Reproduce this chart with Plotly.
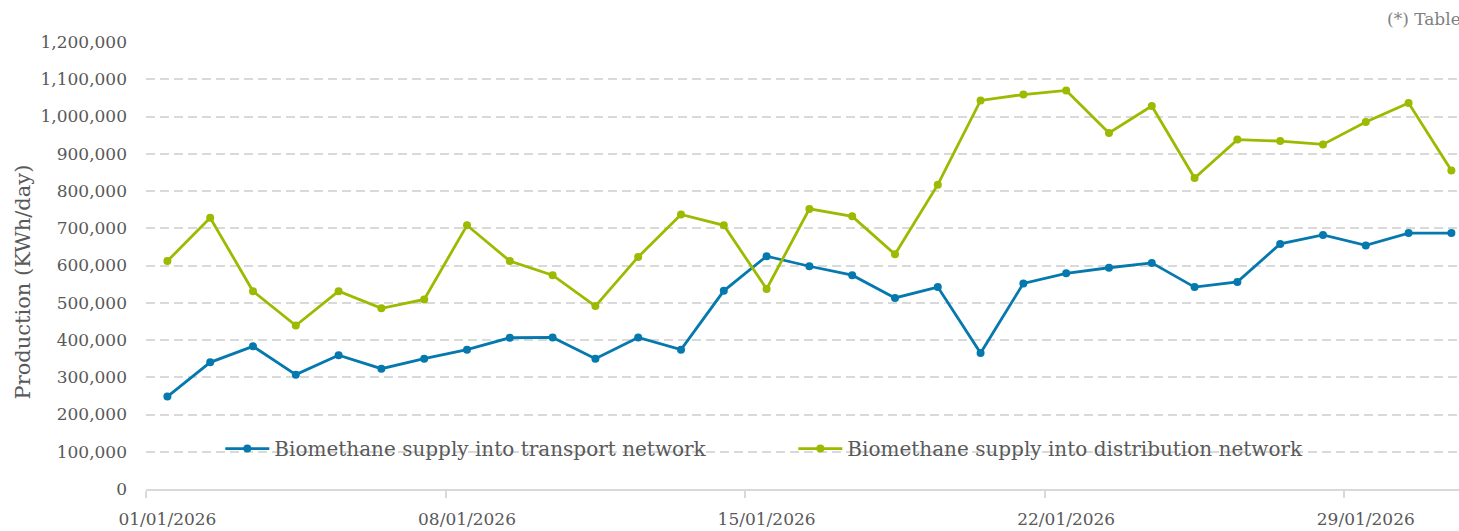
"""
Daily biomethane supply chart - transport vs distribution network, January 2026.
"""

import plotly.graph_objects as go

# Data (kWh/day)
DAYS = [f"2026-01-{d:02d}" for d in range(1, 32)]

TRANSPORT = [
    248000, 340000, 383000, 307000, 359000, 323000, 350000, 374000,
    406000, 407000, 350000, 407000, 374000, 532000, 625000, 598000,
    574000, 513000, 542000, 365000, 552000, 579000, 594000, 607000,
    542000, 556000, 658000, 682000, 654000, 687000, 687000,
]

DISTRIBUTION = [
    612000, 728000, 531000, 439000, 531000, 485000, 509000, 708000,
    612000, 574000, 491000, 623000, 737000, 708000, 537000, 752000,
    732000, 630000, 817000, 1043000, 1059000, 1070000, 956000, 1028000,
    835000, 938000, 934000, 925000, 985000, 1036000, 855000,
]

SERIES_NAMES = [
    "Biomethane supply into transport network",
    "Biomethane supply into distribution network",
]

COLORS = {"transport": "#0579AE", "distribution": "#9CBA00"}
TEXT_COLOR = "#595959"
GRID_COLOR = "#D9D9D9"
FONT = "DejaVu Serif, Liberation Serif, serif"
DAY_MS = 86400000

fig = go.Figure()

for values, name, color in zip(
    [TRANSPORT, DISTRIBUTION], SERIES_NAMES, COLORS.values()
):
    fig.add_trace(
        go.Scatter(
            x=DAYS,
            y=values,
            name=name,
            mode="lines+markers",
            xperiod=DAY_MS,
            xperiodalignment="middle",
            line=dict(color=color, width=2.8),
            marker=dict(color=color, size=8),
        )
    )

fig.update_layout(
    width=1459,
    height=531,
    margin=dict(l=146, r=0, t=42, b=42),
    paper_bgcolor="white",
    plot_bgcolor="white",
    font=dict(family=FONT, color=TEXT_COLOR, size=17),
    showlegend=True,
    legend=dict(
        orientation="h",
        x=0.0566,
        xanchor="left",
        y=0.0905,
        yanchor="middle",
        bgcolor="rgba(0,0,0,0)",
        font=dict(size=20, color=TEXT_COLOR),
        itemwidth=44,
        entrywidth=514,
        entrywidthmode="pixels",
    ),
)

fig.update_xaxes(
    type="date",
    range=["2026-01-01", "2026-01-31 16:16"],
    tick0="2026-01-01 12:00",
    dtick=7 * DAY_MS,
    tickformat="%d/%m/%Y",
    ticks="",
    ticklabelstandoff=14,
    tickfont=dict(size=17, color=TEXT_COLOR),
    showgrid=False,
    showline=True,
    linecolor=GRID_COLOR,
    linewidth=1.5,
    zeroline=False,
    minor=dict(
        tick0="2026-01-01",
        dtick=7 * DAY_MS,
        ticks="outside",
        ticklen=7,
        tickcolor=GRID_COLOR,
        tickwidth=1.5,
        showgrid=False,
    ),
)

fig.update_yaxes(
    range=[0, 1200000],
    dtick=100000,
    tickformat=",d",
    ticks="",
    ticklabelstandoff=18,
    tickfont=dict(size=17, color=TEXT_COLOR),
    showgrid=True,
    gridcolor=GRID_COLOR,
    gridwidth=1.5,
    griddash="9px,5px",
    zeroline=False,
)

# Rotated axis title placed as annotation to match reference position
fig.add_annotation(
    text="Production (KWh/day)",
    xref="paper",
    yref="paper",
    x=(22 - 146) / 1313,
    y=(489.5 - 283) / 447,
    textangle=-90,
    showarrow=False,
    xanchor="center",
    yanchor="middle",
    font=dict(size=21, color=TEXT_COLOR),
)

# Footnote cut off at the right edge, as in the reference
fig.add_annotation(
    text="(*) Table",
    xref="paper",
    yref="paper",
    x=(1385 - 146) / 1313,
    y=(489.5 - 20) / 447,
    showarrow=False,
    xanchor="left",
    yanchor="middle",
    font=dict(size=17, color="#7F7F7F"),
)

# Drop the default page margin so the figure fills the window exactly
fig.write_html(
    "out.html",
    config={"displayModeBar": False},
    post_script="document.body.style.margin='0';document.body.style.overflow='hidden';",
)
